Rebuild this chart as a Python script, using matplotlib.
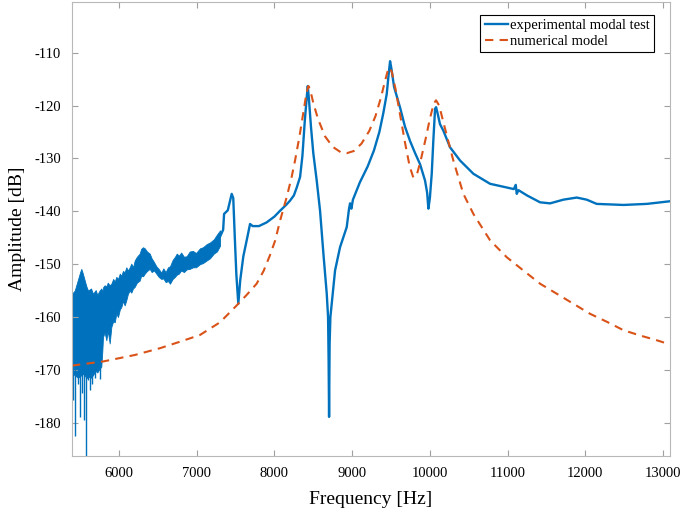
import matplotlib
matplotlib.use("Agg")
import matplotlib.pyplot as plt
import numpy as np

plt.rcParams['font.family'] = ['Liberation Serif', 'DejaVu Serif']
plt.rcParams['axes.unicode_minus'] = False

# numerical model (dashed)
num_freq = [5395, 5800, 6200, 6528, 6800, 7042, 7300, 7515, 7650, 7771, 7860, 7943,
            8010, 8072, 8158, 8220, 8265, 8320, 8370, 8410, 8437, 8460, 8500, 8560,
            8650, 8750, 8850, 8932, 9020, 9120, 9220, 9300, 9370, 9420, 9460, 9480,
            9510, 9560, 9620, 9680, 9740, 9787, 9830, 9880, 9950, 10000, 10050, 10080,
            10120, 10180, 10302, 10431, 10560, 10775, 10990, 11203, 11418, 11633,
            11847, 12062, 12277, 12491, 12705, 12920, 13090]
num_amp = [-169.2, -168.4, -167.2, -165.9, -164.6, -163.4, -161.0, -157.8, -155.7, -153.7, -151.3, -148.3,
           -145.5, -141.8, -137.3, -133.6, -130.4, -126.0, -121.5, -117.8, -116.3, -117.0, -119.5, -122.5,
           -125.8, -127.8, -128.8, -129.0, -128.6, -127.2, -124.8, -122.0, -118.5, -115.5, -113.3, -112.8,
           -113.6, -117.0, -122.0, -127.0, -131.5, -133.6, -133.2, -130.5, -126.0, -122.5, -119.6, -119.0,
           -120.0, -123.5, -130.4, -136.7, -140.5, -145.5, -148.7, -151.2, -153.7, -155.6,
           -157.5, -159.4, -160.9, -162.5, -163.5, -164.4, -165.2]

# experimental test, noisy low band: upper / lower envelope
band_freq = [5395, 5430, 5470, 5500, 5515, 5535, 5559, 5580, 5601, 5640, 5665, 5700,
             5720, 5750, 5772, 5785, 5794, 5815, 5837, 5855, 5880, 5901, 5925, 5945,
             5965, 5987, 6010, 6030, 6050, 6073, 6094, 6115, 6138, 6158, 6180, 6202,
             6230, 6266, 6285, 6309, 6331, 6360, 6395, 6420, 6450, 6480, 6510, 6544,
             6570, 6600, 6630, 6656, 6690, 6720, 6743, 6770, 6800, 6835, 6870, 6910,
             6952, 6990, 7042, 7080, 7129, 7170, 7220, 7260, 7300]
band_hi = [-155.6, -155.0, -153.0, -151.5, -150.9, -151.8, -153.1, -154.2, -155.0, -154.6, -155.6, -154.9,
           -155.8, -155.0, -154.6, -155.3, -154.4, -154.0, -154.2, -153.5, -154.0, -153.7, -152.8, -153.3,
           -152.4, -152.8, -151.8, -152.2, -151.3, -151.5, -150.6, -151.2, -150.6, -149.9, -150.6, -149.3,
           -148.6, -148.0, -147.1, -146.8, -147.0, -147.6, -148.0, -148.9, -149.6, -150.4, -150.9, -151.6,
           -150.8, -151.5, -150.6, -150.4, -149.2, -148.6, -148.0, -148.4, -147.8, -148.6, -148.5, -147.6,
           -147.5, -147.9, -147.0, -146.8, -146.2, -145.9, -145.3, -144.4, -143.6]
band_lo = [-170.7, -171.0, -171.5, -171.2, -171.0, -170.8, -171.0, -171.6, -171.3, -171.5, -171.0, -170.2,
           -170.5, -169.8, -169.4, -166.5, -163.8, -162.9, -164.4, -162.6, -165.0, -161.9, -160.8, -161.0,
           -159.4, -160.0, -158.6, -158.1, -157.0, -157.8, -156.8, -155.6, -155.0, -155.4, -154.6, -154.3,
           -153.5, -153.1, -152.2, -152.3, -151.8, -151.3, -150.9, -151.5, -151.2, -151.8, -152.4, -152.8,
           -152.7, -153.4, -153.2, -153.7, -152.8, -152.4, -152.0, -151.8, -151.2, -151.5, -151.0, -150.9,
           -150.6, -150.6, -150.0, -149.8, -149.3, -148.9, -148.0, -147.6, -146.5]

# downward spikes in the noisy start
spike_freq = [5408, 5438, 5472, 5494, 5524, 5550, 5579, 5601, 5623, 5653, 5687, 5755]
spike_lo = [-175.7, -182.6, -172.6, -178.9, -174.4, -179.5, -187.0, -172.0, -173.8, -172.6, -171.5, -171.8]
spike_top = [-166.0, -166.0, -166.0, -166.0, -166.0, -166.0, -166.0, -166.0, -166.0, -166.0, -166.0, -165.0]

# experimental test, main line above 7300 Hz
exp_freq = [7300, 7340, 7352, 7400, 7450, 7470, 7490, 7510, 7535, 7560, 7600, 7650,
            7686, 7720, 7800, 7900, 8000, 8072, 8150, 8200, 8250, 8287, 8330, 8360,
            8390, 8415, 8429, 8445, 8470, 8500, 8544, 8587, 8630, 8673, 8690, 8697,
            8703, 8710, 8720, 8737, 8780, 8844, 8930, 8960, 8973, 8990, 9010, 9100,
            9200, 9280, 9350, 9400, 9445, 9470, 9488, 9505, 9540, 9617, 9680, 9745,
            9810, 9874, 9938, 9965, 9981, 10000, 10024, 10045, 10067, 10080, 10100, 10130,
            10175, 10260, 10389, 10560, 10775, 10990, 11080, 11105, 11118, 11140, 11250, 11418,
            11547, 11718, 11890, 12018, 12147, 12491, 12791, 13090]
exp_amp = [-144.8, -143.5, -140.5, -139.8, -136.7, -137.5, -145.0, -152.0, -157.5, -153.0, -148.5, -145.0,
           -142.4, -142.8, -142.8, -142.1, -141.0, -139.9, -138.8, -138.0, -137.0, -135.5, -133.5, -129.5,
           -123.0, -118.5, -116.3, -119.0, -124.0, -129.0, -134.2, -139.9, -148.0, -155.6, -160.0, -168.0,
           -178.9, -165.0, -160.0, -157.5, -151.2, -146.8, -143.0, -139.5, -138.5, -139.5, -137.8, -134.5,
           -131.5, -128.5, -125.0, -121.5, -117.8, -114.0, -111.6, -113.0, -116.5, -120.4, -124.0, -126.7,
           -129.0, -131.1, -134.2, -136.5, -139.5, -137.5, -132.9, -126.5, -120.6, -120.3, -121.5, -123.5,
           -124.8, -127.9, -130.4, -132.9, -134.8, -135.5, -135.8, -135.0, -136.7, -136.0, -137.0, -138.3,
           -138.5, -137.8, -137.4, -137.8, -138.6, -138.8, -138.6, -138.1]

blue = '#0072BD'
orange = '#D95319'

fig = plt.figure(figsize=(6.85, 5.16), dpi=100)
ax = fig.add_axes([72 / 685, 1 - 456 / 516, 598 / 685, 454 / 516])

ax.fill_between(band_freq, band_lo, band_hi, color=blue, lw=0.6, edgecolor=blue)
ax.vlines(spike_freq, spike_lo, spike_top, color=blue, lw=1.0)
ax.plot(exp_freq, exp_amp, color=blue, lw=1.7, solid_joinstyle='round',
        label='experimental modal test')
ax.plot(num_freq, num_amp, color=orange, lw=1.5, ls=(0, (4, 3)),
        label='numerical model')

ax.set_xlim(5395, 13090)
ax.set_ylim(-186.3, -100.4)
ax.set_xticks(np.arange(6000, 13001, 1000))
ax.set_yticks(np.arange(-180, -109, 10))

for s in ax.spines.values():
    s.set_color('#b8b8b8')
    s.set_linewidth(0.8)
ax.tick_params(direction='in', length=4, width=0.8, color='#a0a0a0',
               top=True, right=True, labelsize=10.5, pad=8)

ax.set_xlabel('Frequency [Hz]', fontsize=14, labelpad=8)
ax.set_ylabel('Amplitude [dB]', fontsize=14, labelpad=6)

leg = ax.legend(loc='upper right', bbox_to_anchor=(0.974, 0.972), borderaxespad=0,
                fancybox=False, edgecolor='black', framealpha=1, fontsize=10.5,
                handlelength=1.6, handletextpad=0.15, labelspacing=0.15,
                borderpad=0.3)
leg.get_frame().set_linewidth(0.8)

fig.savefig('out.png', dpi=100)
